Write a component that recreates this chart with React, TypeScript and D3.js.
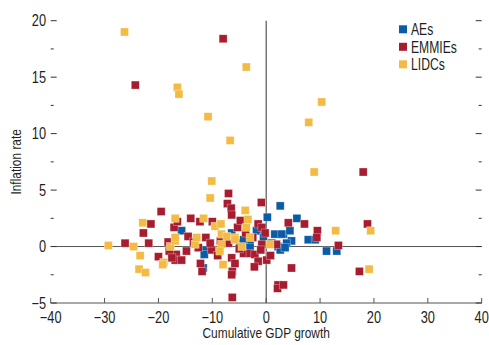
import * as d3 from "d3";

// [cumulative GDP growth, inflation rate]
const aePoints: [number, number][] = [
  [2.6, 3.6], [0.2, 2.6], [5.7, 2.5], [1.6, 1.1], [3.2, 1.1], [4.7, 0.5],
  [3.8, 0.3], [2.2, 0.0], [7.8, 0.6], [9.1, 0.6], [-15.7, 1.4], [-11.4, -0.3],
  [-11.5, -0.7], [-11.7, -1.9], [-6.4, 1.2], [-3.0, 0.2], [-1.2, 1.4], [-4.9, 0.3],
  [11.2, -0.4], [13.1, -0.4], [-4.2, 0.6], [-3.0, -0.1], [2.6, -0.3], [3.5, -0.1],
  [-1.8, 1.4], [2.9, 1.1], [-0.5, 0.8], [1.0, 0.3], [4.4, 1.4], [-7.5, 0.5],
];

const emmiePoints: [number, number][] = [
  [-8.0, 18.4], [-24.3, 14.3], [18.0, 6.6], [-7.0, 4.7], [-7.2, 3.8], [-6.5, 3.4],
  [-0.9, 3.9], [-19.5, 3.1], [-6.4, 2.8], [4.1, 2.1], [7.1, 2.0], [9.5, 1.4],
  [-21.4, 2.0], [-22.8, 1.2], [-17.1, 1.7], [-16.5, 2.2], [-12.3, 2.2], [-14.5, 0.9],
  [-10.0, 2.2], [-5.3, 1.7], [-1.5, 2.0], [-0.8, 1.7], [-0.2, 1.2], [-11.2, 0.8],
  [18.8, 2.0], [9.4, 0.8], [13.4, 0.1], [4.7, -1.9], [17.3, -2.2], [-26.2, 0.3],
  [-21.8, 0.3], [-18.2, 0.4], [-16.7, -0.7], [-16.9, -1.2], [-15.7, -1.2], [-14.8, -0.4],
  [-12.6, -0.1], [-11.9, -2.2], [-10.1, -0.3], [-10.4, 0.3], [-6.4, -1.0], [-6.3, -2.2],
  [-6.4, -2.5], [-6.3, -4.5], [-4.2, -0.6], [-3.0, -0.6], [-2.1, -0.7], [-1.5, -1.3],
  [0.1, -1.2], [-0.8, 0.2], [1.9, 0.2], [2.2, -3.4], [2.1, -3.7], [3.2, -3.4],
  [-7.0, 0.3], [-5.0, -0.2], [-2.5, 0.8], [-14.0, 2.5], [-9.0, -0.8], [-8.5, 0.5],
  [-3.8, 1.2], [-1.0, -0.3], [0.8, -0.8], [-5.8, -1.5], [-13.5, 0.4], [-18.0, -0.4],
  [-20.0, -0.9], [-17.5, -1.0], [-12.2, -1.5], [-2.2, -1.8], [-4.8, 2.3],
];

const lidcPoints: [number, number][] = [
  [-26.3, 19.0], [-3.7, 15.9], [-16.5, 14.1], [-16.2, 13.5], [-10.8, 11.5], [-6.7, 9.4],
  [10.3, 12.8], [7.9, 11.0], [8.9, 6.6], [-10.1, 5.8], [-10.4, 4.3], [-3.9, 3.2],
  [-22.9, 2.1], [-16.9, 2.5], [-11.6, 2.5], [-9.5, 1.8], [-8.4, 2.0], [-3.4, 2.4],
  [-3.7, 1.7], [-8.3, 1.1], [-7.3, 0.9], [-5.8, 0.8], [-3.0, 0.8], [12.9, 1.4],
  [19.4, 1.4], [19.1, -2.0], [-29.3, 0.1], [-24.6, 0.0], [-23.4, -0.8], [-23.6, -2.0],
  [-22.4, -2.3], [-19.0, -1.4], [-19.2, -1.6], [-17.8, 0.0], [-16.9, 0.5], [-13.2, 0.2],
  [-16.9, 0.8], [-12.9, 0.8], [-8.3, 0.2], [-8.6, -0.4], [-8.0, -1.6], [-5.8, 0.6],
  [-4.5, 0.0], [0.7, 0.2],
];

const seriesNames = ["AEs", "EMMIEs", "LIDCs"];
const seriesColors = ["#0a5ca8", "#a71c2e", "#f4bb44"];
const xTicks = [-40, -30, -20, -10, 0, 10, 20, 30, 40];
const yTicks = [-5, 0, 5, 10, 15, 20];
const yMinorTicks = [-2.5, 2.5, 7.5, 12.5, 17.5];

const font = "'Liberation Sans', Arial, sans-serif";
const fmt = (t: number) => (t < 0 ? "\u2212" + Math.abs(t) : String(t));

// condensed-looking text: normal font squeezed horizontally around its anchor
const NarrowText = ({ x, y, size, sx = 0.8, anchor = "start", dy = "0", rotate = 0, children }: any) => (
  <text
    transform={`translate(${x},${y}) rotate(${rotate}) scale(${sx},1)`}
    textAnchor={anchor}
    dy={dy}
    fontSize={size}
    fill="#231f20"
  >
    {children}
  </text>
);

export default function App() {
  const x = d3.scaleLinear().domain([-40, 40]).range([50.7, 481.7]);
  const y = d3.scaleLinear().domain([-5, 20]).range([303, 20.7]);
  const size = 8;
  const series = [aePoints, emmiePoints, lidcPoints];
  const axisColor = "#555";

  return (
    <svg width={489} height={345} style={{ position: "absolute", left: 0, top: 0 }} fontFamily={font}>
      {/* zero lines */}
      <line x1={x(-40)} x2={x(40)} y1={y(0)} y2={y(0)} stroke={axisColor} strokeWidth={1} />
      <line x1={x(0)} x2={x(0)} y1={y(20)} y2={y(-5)} stroke={axisColor} strokeWidth={1.2} />

      {/* bottom axis */}
      <line x1={x(-40)} x2={x(40)} y1={y(-5)} y2={y(-5)} stroke={axisColor} strokeWidth={1.2} />
      {xTicks.map((t) => (
        <g key={"xt" + t}>
          <line x1={x(t)} x2={x(t)} y1={y(-5)} y2={y(-5) - 5} stroke={axisColor} strokeWidth={1} />
          <NarrowText x={x(t)} y={323} size={16} anchor="middle">{fmt(t)}</NarrowText>
        </g>
      ))}

      {/* y ticks, both sides */}
      {yTicks.map((t) => (
        <g key={"yt" + t}>
          <line x1={x(-40)} x2={x(-40) + 6} y1={y(t)} y2={y(t)} stroke="#333" strokeWidth={1} />
          <line x1={x(40) - 6} x2={x(40)} y1={y(t)} y2={y(t)} stroke="#333" strokeWidth={1} />
          <NarrowText x={46} y={y(t)} dy="0.35em" size={16} anchor="end">{fmt(t)}</NarrowText>
        </g>
      ))}
      {yMinorTicks.map((t) => (
        <g key={"ym" + t}>
          <line x1={x(-40)} x2={x(-40) + 3} y1={y(t)} y2={y(t)} stroke="#333" strokeWidth={1} />
          <line x1={x(40) - 3} x2={x(40)} y1={y(t)} y2={y(t)} stroke="#333" strokeWidth={1} />
        </g>
      ))}

      {/* points */}
      {series.map((pts, i) => (
        <g key={"s" + i}>
          {pts.map((p, j) => (
            <rect
              key={j}
              x={x(p[0]) - size / 2}
              y={y(p[1]) - size / 2}
              width={size}
              height={size}
              fill={seriesColors[i]}
              stroke="#fff"
              strokeOpacity={0.5}
              strokeWidth={0.6}
            />
          ))}
        </g>
      ))}

      {/* legend */}
      {seriesNames.map((name, i) => (
        <g key={name}>
          <rect x={399} y={29.3 + i * 17.5 - 4} width={8} height={8} fill={seriesColors[i]} />
          <NarrowText x={411} y={29.3 + i * 17.5} dy="0.36em" size={16} sx={0.76}>{name}</NarrowText>
        </g>
      ))}

      {/* axis titles */}
      <NarrowText x={x(0)} y={338} size={14} sx={0.85} anchor="middle">Cumulative GDP growth</NarrowText>
      <NarrowText x={21} y={(y(20) + y(-5)) / 2} size={14} sx={0.85} anchor="middle" rotate={-90}>
        Inflation rate
      </NarrowText>
    </svg>
  );
}
